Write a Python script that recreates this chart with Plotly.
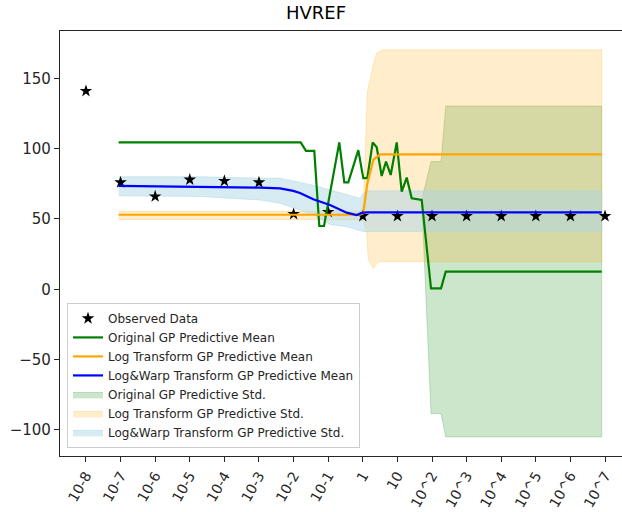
import plotly.graph_objects as go

# ---------------- data ----------------
tick_labels = ["10-8", "10-7", "10-6", "10-5", "10-4", "10-3", "10-2", "10-1",
               "1", "10", "10^2", "10^3", "10^4", "10^5", "10^6", "10^7"]
obs_x = list(range(16))
obs_y = [141, 76, 66, 78, 77, 76, 53.5, 55, 52, 52, 52, 52, 52, 52, 52, 52]

# Original GP predictive mean (vertices)
orig_x = [0.945, 6.205, 6.358, 6.598, 6.743, 6.879, 7.321, 7.465, 7.581, 7.870,
          8.014, 8.130, 8.286, 8.402, 8.546, 8.671, 8.806, 8.980, 9.124, 9.269,
          9.413, 9.604, 9.702, 9.971, 10.260, 10.396, 14.904]
orig_mean = [104.5, 104.5, 98.4, 98.4, 45, 45, 104.5, 76, 76, 99,
             79, 79, 104.5, 101, 80.6, 90.8, 81.3, 104.5, 69.4, 79.4,
             64.7, 64, 63.5, 0.7, 0.7, 12.5, 12.5]
# Original GP predictive std band (upper / lower edges, same vertices)
orig_upper = [104.5, 104.5, 98.4, 98.4, 45, 45, 104.5, 76, 76, 99,
              79, 79, 104.5, 101, 80.6, 90.8, 81.3, 104.5, 69.4, 79.4,
              64.7, 64, 63.5, 90.8, 90.8, 130.3, 130.3]
orig_lower = [104.5, 104.5, 98.4, 98.4, 45, 45, 104.5, 76, 76, 99,
              79, 79, 104.5, 101, 80.6, 90.8, 81.3, 104.5, 69.4, 79.4,
              64.7, 64, 63.5, -88.5, -88.5, -105, -105]

# Log transform GP predictive mean
log_x = [0.945, 7.919, 8.014, 8.130, 8.303, 8.497, 14.904]
log_mean = [53, 53, 54, 75, 92, 96, 96]
log_up_x = [0.945, 7.919, 8.014, 8.130, 8.303, 8.402, 8.584, 14.904]
log_upper = [55.5, 55.5, 60, 140, 160, 168, 170.3, 170.3]
log_lo_x = [0.945, 7.919, 8.014, 8.113, 8.159, 8.303, 8.448, 14.904]
log_lower = [49.5, 49.5, 48, 40, 21, 15, 19.6, 19.6]

# Log&Warp transform GP predictive mean
warp_x = [0.945, 3.295, 5.029, 5.607, 5.991, 6.185, 6.569, 7.052, 7.535,
          7.824, 7.968, 8.113, 14.904]
warp_mean = [73.5, 73, 72.3, 71.8, 70, 68.5, 64, 60, 54.5, 52.8, 54.3, 54.7, 54.7]
warp_up_x = [0.945, 3.295, 5.029, 5.607, 6.569, 7.535, 7.919, 8.014, 8.130, 14.904]
warp_upper = [80, 80, 79, 79, 74, 67, 64.7, 68.3, 70, 70]
warp_lo_x = [0.945, 3.295, 5.029, 5.607, 6.569, 7.052, 7.535, 8.014, 14.904]
warp_lower = [66.5, 66, 63.5, 61.2, 53, 46, 44.5, 41, 41]

# ---------------- figure ----------------
fig = go.Figure()


def band(xu, yu, xl, yl, rgba, name, rank):
    fig.add_trace(go.Scatter(
        x=list(xu) + list(xl)[::-1], y=list(yu) + list(yl)[::-1],
        fill="toself", fillcolor=rgba, mode="lines",
        line=dict(color=rgba, width=1), name=name, legendrank=rank,
        hoverinfo="skip"))


band(orig_x, orig_upper, orig_x, orig_lower,
     "rgba(0,128,0,0.2)", "Original GP Predictive Std.", 5)
band(log_up_x, log_upper, log_lo_x, log_lower,
     "rgba(255,165,0,0.2)", "Log Transform GP Predictive Std.", 6)
band(warp_up_x, warp_upper, warp_lo_x, warp_lower,
     "rgba(173,216,230,0.5)", "Log&Warp Transform GP Predictive Std.", 7)

fig.add_trace(go.Scatter(x=obs_x, y=obs_y, mode="markers", name="Observed Data",
                         marker=dict(symbol="star", size=9.5, color="black"),
                         legendrank=1))
fig.add_trace(go.Scatter(x=orig_x, y=orig_mean, mode="lines",
                         line=dict(color="green", width=2.2),
                         name="Original GP Predictive Mean", legendrank=2))
fig.add_trace(go.Scatter(x=log_x, y=log_mean, mode="lines",
                         line=dict(color="orange", width=2.2),
                         name="Log Transform GP Predictive Mean", legendrank=3))
fig.add_trace(go.Scatter(x=warp_x, y=warp_mean, mode="lines",
                         line=dict(color="blue", width=2.2),
                         name="Log&Warp Transform GP Predictive Mean", legendrank=4))

axis_color = "#262626"
fig.update_layout(
    width=622, height=512,
    margin=dict(l=60, r=0, t=31, b=56),
    plot_bgcolor="white", paper_bgcolor="white",
    font=dict(family="DejaVu Sans", color="#262626"),
    title=dict(text="HVREF", x=0.508, xanchor="center", y=1 - 13 / 512,
               yanchor="middle", font=dict(size=18, color="black")),
    showlegend=True,
    legend=dict(x=0.0125, y=0.019, xanchor="left", yanchor="bottom",
                bgcolor="rgba(255,255,255,0.8)", bordercolor="#cccccc",
                borderwidth=1, font=dict(size=12, color="#262626")),
    xaxis=dict(range=[-0.75, 15.49], tickmode="array", tickvals=obs_x,
               ticktext=tick_labels, tickangle=-60, showgrid=False,
               zeroline=False, showline=True, linecolor=axis_color,
               linewidth=1.2, mirror=True, ticks="outside", ticklen=5,
               tickcolor=axis_color, tickfont=dict(size=14)),
    yaxis=dict(range=[-118.6, 183.7], tickmode="array",
               tickvals=[-100, -50, 0, 50, 100, 150], showgrid=False,
               zeroline=False, showline=True, linecolor=axis_color,
               linewidth=1.2, mirror=False, ticks="outside", ticklen=5,
               tickcolor=axis_color, tickfont=dict(size=15)),
)

fig.write_html("out.html")
